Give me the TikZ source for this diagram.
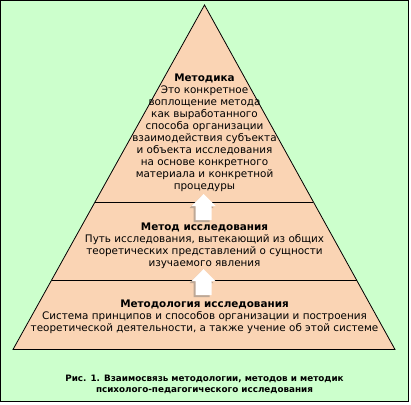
\documentclass[tikz,border=0pt]{standalone}
\usepackage{fontspec}
\setmainfont{DejaVu Sans}
\usetikzlibrary{calc}

\definecolor{bggreen}{HTML}{CCFFCC}
\definecolor{peach}{HTML}{FAD4B4}

\tikzset{
  level/.style={fill=peach, draw=black, line width=0.8pt},
  divider/.style={draw=black, line width=0.8pt},
  blocktext/.style={align=center, inner sep=0pt, font=\fontsize{10.4}{12}\selectfont},
  figcaption/.style={align=center, inner sep=0pt, font=\fontsize{8.8}{11}\selectfont\bfseries},
  arrowshadow/.style={fill=black!55, opacity=0.45},
  uparrow/.pic={
    \fill[arrowshadow, shift={(-2,2)}] (0,0) -- (12,12) -- (8,12) -- (8,26) -- (-8,26) -- (-8,12) -- (-12,12) -- cycle;
    \fill[white] (0,0) -- (12,12) -- (8,12) -- (8,26) -- (-8,26) -- (-8,12) -- (-12,12) -- cycle;
  }
}

\begin{document}
\begin{tikzpicture}[x=1pt, y=-1pt]
  \useasboundingbox (0,0) rectangle (411,404);
  \fill[white] (0,0) rectangle (411,404);
  \draw[fill=bggreen, line width=1pt] (0.5,0.5) rectangle (408.5,401.5);

  % pyramid
  \coordinate (apex) at (204.5,5);
  \coordinate (bl) at (13,349.5);
  \coordinate (br) at (395,349.5);
  \draw[level] (apex) -- (br) -- (bl) -- cycle;

  \coordinate (d1l) at ($(apex)!0.5718!(bl)$);
  \coordinate (d1r) at ($(apex)!0.5718!(br)$);
  \coordinate (d2l) at ($(apex)!0.7983!(bl)$);
  \coordinate (d2r) at ($(apex)!0.7983!(br)$);
  \draw[divider] (d1l) -- (d1r);
  \draw[divider] (d2l) -- (d2r);

  % texts
  \node[blocktext] (methodika) at (204.5,133) {\textbf{Методика}\\Это конкретное\\воплощение метода\\как выработанного\\способа организации\\взаимодействия субъекта\\и объекта исследования\\на основе конкретного\\материала и конкретной\\процедуры};
  \node[blocktext] (method) at (204.5,246) {\textbf{Метод исследования}\\Путь исследования, вытекающий из общих\\теоретических представлений о сущности\\изучаемого явления};
  \node[blocktext] (methodology) at (204.5,317) {\textbf{Методология исследования}\\Система принципов и способов организации и построения\\теоретической деятельности, а также учение об этой системе};
  \node[figcaption] (caption) at (204.5,384) {Рис. 1. Взаимосвязь методологии, методов и методик\\психолого-педагогического исследования};

  % arrows
  \pic (arrowup) at (203.5,194) {uparrow};
  \pic (arrowlow) at (203.5,269) {uparrow};
\end{tikzpicture}
\end{document}
